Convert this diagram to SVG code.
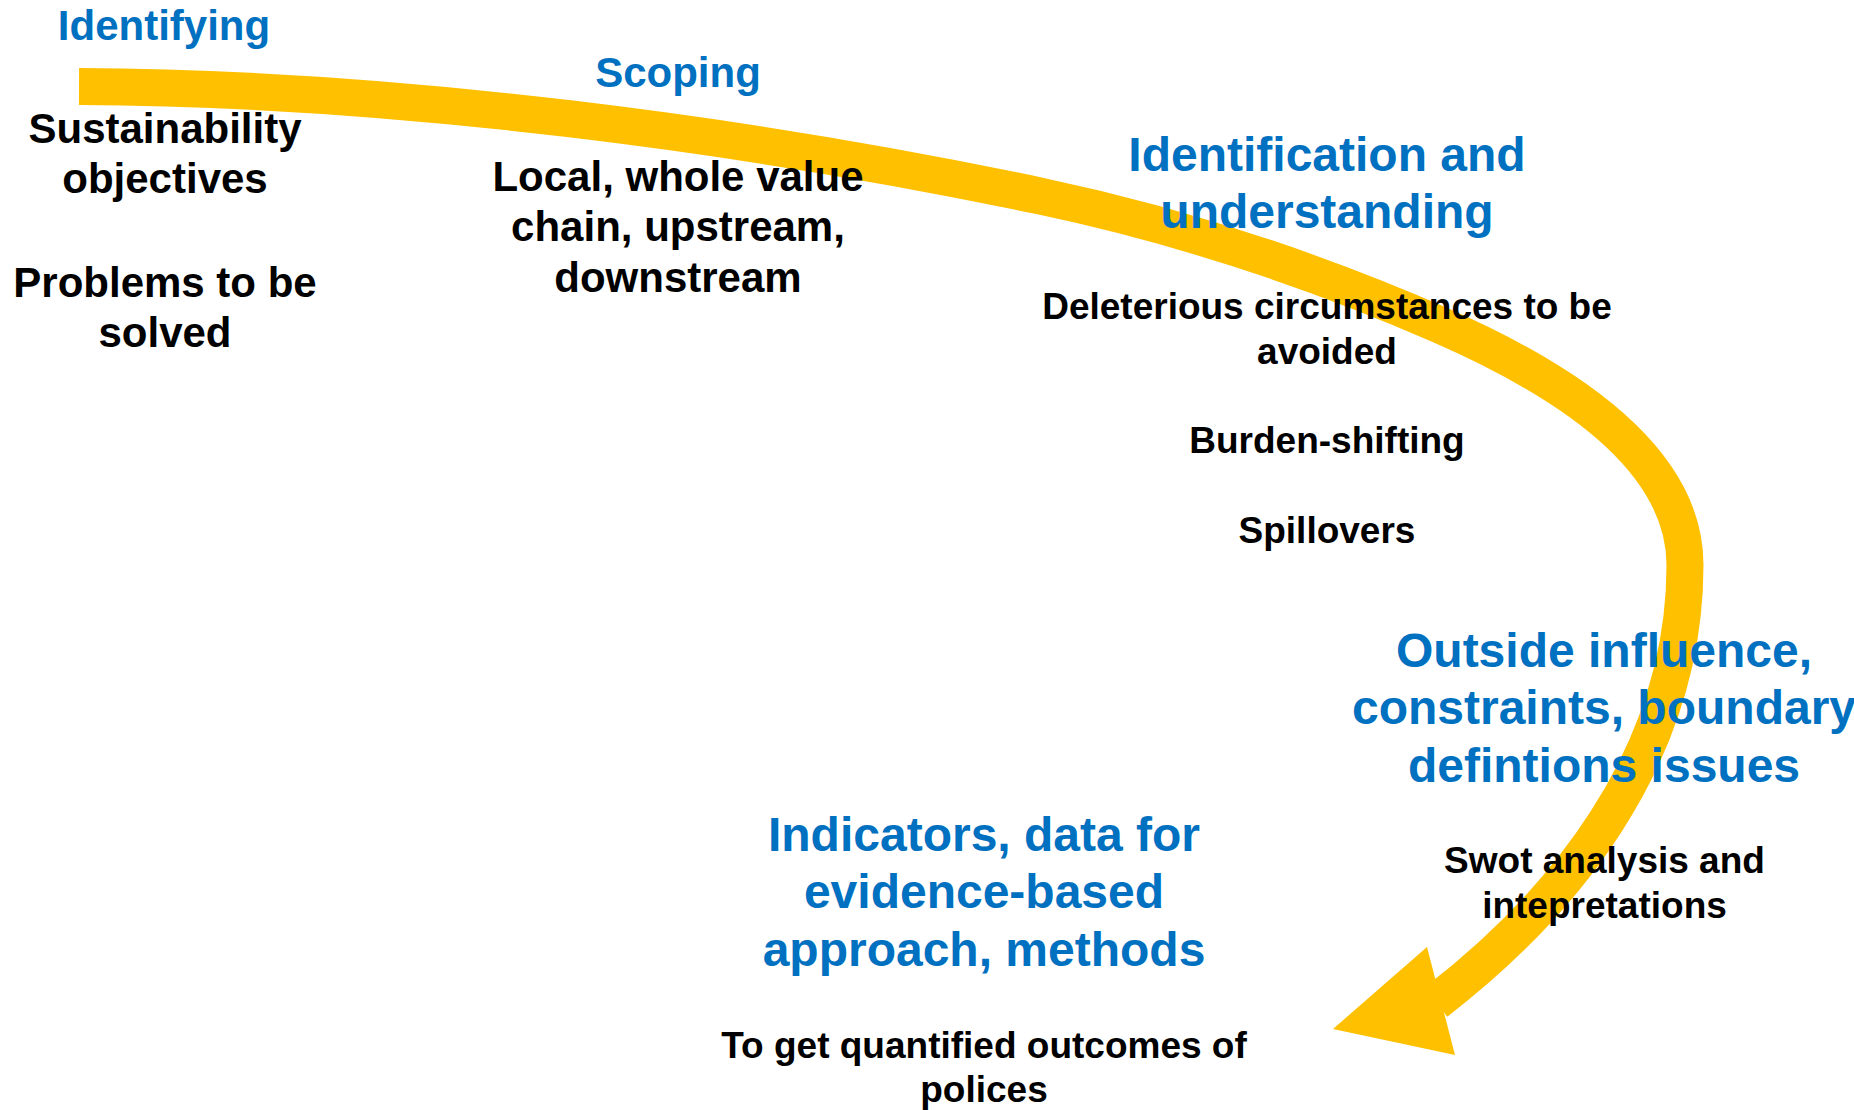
<svg xmlns="http://www.w3.org/2000/svg" width="1854" height="1110" viewBox="0 0 1854 1110">
<style>
.t{font-family:"Liberation Sans",Arial,sans-serif;font-weight:bold;text-anchor:middle}
.h{fill:#0070C0}
.b{fill:#000}
.s42{font-size:42px}
.s48{font-size:48px}
.s37{font-size:37px}
</style>
<rect width="1854" height="1110" fill="#fff"/>
<g id="connectors">
<path d="M79,86.5 C400,88 750,135 1040,196 C1173,224 1307,267 1440,325 C1559,377 1685,455 1685,565 C1685,760 1558,908 1436,1002" fill="none" stroke="#FFC000" stroke-width="37"/>
<polygon points="1427,947 1333,1029 1455,1055" fill="#FFC000"/>
</g>
<g id="identifying">
<text class="t h s42" x="164" y="40">Identifying</text>
<text class="t b s42" x="165" y="142.5">Sustainability</text>
<text class="t b s42" x="165" y="193">objectives</text>
<text class="t b s42" x="165" y="296.5">Problems to be</text>
<text class="t b s42" x="165" y="347">solved</text>
</g>
<g id="scoping">
<text class="t h s42" x="678" y="86.7">Scoping</text>
<text class="t b s42" x="678" y="190.5">Local, whole value</text>
<text class="t b s42" x="678" y="241">chain, upstream,</text>
<text class="t b s42" x="678" y="291.5">downstream</text>
</g>
<g id="identification">
<text class="t h s48" x="1327" y="170.7">Identification and</text>
<text class="t h s48" x="1327" y="228.3">understanding</text>
<text class="t b s37" x="1327" y="319.3">Deleterious circumstances to be</text>
<text class="t b s37" x="1327" y="363.5">avoided</text>
<text class="t b s37" x="1327" y="453.3">Burden-shifting</text>
<text class="t b s37" x="1327" y="543">Spillovers</text>
</g>
<g id="outside">
<text class="t h s48" x="1604" y="666.7">Outside influence,</text>
<text class="t h s48" x="1604" y="724.3">constraints, boundary</text>
<text class="t h s48" x="1604" y="781.9">defintions issues</text>
<text class="t b s37" x="1604.5" y="872.7">Swot analysis and</text>
<text class="t b s37" x="1604.5" y="917.5">intepretations</text>
</g>
<g id="indicators">
<text class="t h s48" x="984" y="851">Indicators, data for</text>
<text class="t h s48" x="984" y="908.3">evidence-based</text>
<text class="t h s48" x="984" y="965.5">approach, methods</text>
<text class="t b s37" x="984" y="1058.3">To get quantified outcomes of</text>
<text class="t b s37" x="984" y="1102">polices</text>
</g>
</svg>
